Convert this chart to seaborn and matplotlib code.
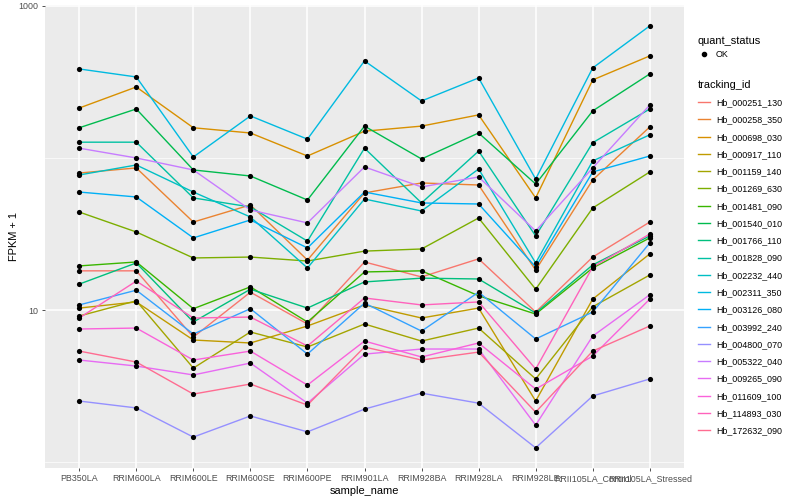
import numpy as np
import pandas as pd
import seaborn as sns
from matplotlib import pyplot as plt
from matplotlib.lines import Line2D

# samples on x
samples = ["PB350LA", "RRIM600LA", "RRIM600LE", "RRIM600SE", "RRIM600PE", "RRIM901LA",
           "RRIM928BA", "RRIM928LA", "RRIM928LE", "RRII105LA_Control", "RRII105LA_Stressed"]

# FPKM + 1 per gene
hb_000251_130 = [18.1, 18.1, 6.64, 13.1, 8.09, 20.7, 16.5, 21.7, 9.70, 22.3, 37.9]
hb_000258_350 = [79.6, 86.0, 37.9, 49.1, 21.3, 58.9, 68.5, 66.4, 18.3, 71.7, 160]
hb_000698_030 = [213, 293, 158, 146, 103, 150, 162, 192, 54.6, 326, 469]
hb_000917_110 = [10.3, 11.3, 6.35, 6.07, 7.85, 10.8, 8.86, 10.3, 2.52, 11.8, 23.4]
hb_001159_140 = [9.13, 11.5, 4.15, 7.17, 5.71, 8.09, 6.25, 7.61, 3.52, 10.5, 17.0]
hb_001269_630 = [44.1, 32.6, 22.0, 22.3, 21.0, 24.4, 25.2, 40.3, 13.7, 46.9, 80.9]
hb_001481_090 = [19.5, 20.7, 10.2, 14.2, 8.34, 17.8, 18.1, 12.4, 9.41, 18.9, 29.8]
hb_001540_010 = [158, 210, 83.4, 76.1, 52.9, 162, 98.5, 146, 67.4, 204, 357]
hb_001766_110 = [14.8, 20.4, 8.34, 13.7, 10.3, 15.3, 16.2, 16.0, 9.56, 19.8, 30.7]
hb_001828_090 = [127, 127, 54.6, 47.6, 28.4, 116, 50.6, 111, 30.7, 126, 210]
hb_002232_440 = [77.3, 89.9, 59.7, 40.9, 18.9, 53.7, 44.8, 84.6, 20.4, 95.6, 142]
hb_002311_350 = [385, 341, 101.5, 189, 133, 435, 237, 336, 72.7, 391, 739]
hb_003126_080 = [59.7, 55.4, 29.8, 39.1, 25.6, 59.7, 50.6, 49.8, 19.2, 80.9, 103]
hb_003992_240 = [10.8, 13.5, 6.95, 10.2, 5.13, 11.1, 7.27, 13.1, 6.45, 9.70, 27.6]
hb_004800_070 = [2.52, 2.27, 1.46, 2.01, 1.58, 2.23, 2.84, 2.44, 1.24, 2.72, 3.52]
hb_005322_040 = [116, 100, 83.4, 45.5, 37.4, 87.3, 64.5, 75.0, 33.1, 86.0, 223]
hb_009265_090 = [4.69, 4.28, 3.74, 4.48, 2.44, 5.13, 5.54, 5.54, 1.75, 6.74, 12.6]
hb_011609_100 = [7.50, 7.61, 4.69, 5.37, 3.21, 6.25, 4.91, 6.07, 3.02, 4.98, 11.8]
hb_114893_030 = [8.86, 15.5, 8.86, 8.99, 5.80, 12.0, 10.8, 11.3, 4.09, 19.2, 31.6]
hb_172632_090 = [5.37, 4.55, 2.80, 3.26, 2.37, 5.71, 4.69, 5.29, 2.13, 5.37, 7.85]

tracking_ids = ["Hb_000251_130", "Hb_000258_350", "Hb_000698_030", "Hb_000917_110",
                "Hb_001159_140", "Hb_001269_630", "Hb_001481_090", "Hb_001540_010",
                "Hb_001766_110", "Hb_001828_090", "Hb_002232_440", "Hb_002311_350",
                "Hb_003126_080", "Hb_003992_240", "Hb_004800_070", "Hb_005322_040",
                "Hb_009265_090", "Hb_011609_100", "Hb_114893_030", "Hb_172632_090"]
values = [hb_000251_130, hb_000258_350, hb_000698_030, hb_000917_110, hb_001159_140,
          hb_001269_630, hb_001481_090, hb_001540_010, hb_001766_110, hb_001828_090,
          hb_002232_440, hb_002311_350, hb_003126_080, hb_003992_240, hb_004800_070,
          hb_005322_040, hb_009265_090, hb_011609_100, hb_114893_030, hb_172632_090]

# ggplot hue palette for 20 levels
hue_colors = ["#F8766D", "#EA8331", "#D89000", "#C09B00", "#A3A500", "#7CAE00", "#39B600",
              "#00BB4E", "#00BF7D", "#00C1A3", "#00BFC4", "#00BAE0", "#00B0F6", "#35A2FF",
              "#9590FF", "#C77CFF", "#E76BF3", "#FA62DB", "#FF62BC", "#FF6C91"]

rows = []
for tid, vals in zip(tracking_ids, values):
    for s, v in zip(samples, vals):
        rows.append({"sample_name": s, "tracking_id": tid, "fpkm1": v, "quant_status": "OK"})
df = pd.DataFrame(rows)
df["x"] = df["sample_name"].map({s: i for i, s in enumerate(samples)})

plt.rcParams['font.family'] = ['Liberation Sans', 'DejaVu Sans']

fig = plt.figure(figsize=(8, 5), dpi=100)
ax = fig.add_axes([45 / 800, 1 - 468 / 500, (684 - 45) / 800, (468 - 5) / 500])
ax.set_facecolor("#EBEBEB")

sns.lineplot(data=df, x="x", y="fpkm1", hue="tracking_id", hue_order=tracking_ids,
             palette=hue_colors, linewidth=1.0, legend=False, ax=ax, zorder=3)
sns.scatterplot(data=df, x="x", y="fpkm1", color="black", s=14, linewidth=0,
                legend=False, ax=ax, zorder=4)

ax.set_yscale("log")
ax.set_ylim(10 ** -0.039, 10 ** 3.006)
ax.set_xlim(-0.6, len(samples) - 0.4)

ax.set_yticks([10, 1000])
ax.set_yticklabels(["10", "1000"])
ax.set_yticks([1, 100], minor=True)
ax.yaxis.set_minor_formatter(plt.NullFormatter())
ax.set_xticks(range(len(samples)))
ax.set_xticklabels(samples)

ax.grid(which="major", color="white", linewidth=1.1)
ax.grid(which="minor", axis="y", color="white", linewidth=0.5)
ax.set_axisbelow(True)
for sp in ax.spines.values():
    sp.set_visible(False)
ax.tick_params(axis="both", which="major", length=2.5, width=0.6, color="#333333",
               labelsize=6.4, labelcolor="#4D4D4D", pad=2)
ax.tick_params(axis="y", which="minor", length=0)

ax.set_xlabel("sample_name", fontsize=7.9, labelpad=2)
ax.set_ylabel("FPKM + 1", fontsize=7.9, labelpad=0)

# legends
h1 = [Line2D([], [], marker="o", linestyle="none", color="black", markersize=3)]
leg1 = fig.legend(h1, ["OK"], title="quant_status", loc="upper left",
                  bbox_to_anchor=(690 / 800, 1 - 28 / 500), frameon=False,
                  fontsize=6.4, title_fontsize=7.9, handlelength=1.4,
                  handletextpad=0.6, alignment="left")
h2 = [Line2D([], [], color=c, linewidth=1.0) for c in hue_colors]
leg2 = fig.legend(h2, tracking_ids, title="tracking_id", loc="upper left",
                  bbox_to_anchor=(690 / 800, 1 - 72 / 500), frameon=False,
                  fontsize=6.4, title_fontsize=7.9, handlelength=1.4,
                  handletextpad=0.6, labelspacing=0.93, alignment="left")

fig.savefig("out.png", dpi=100)
